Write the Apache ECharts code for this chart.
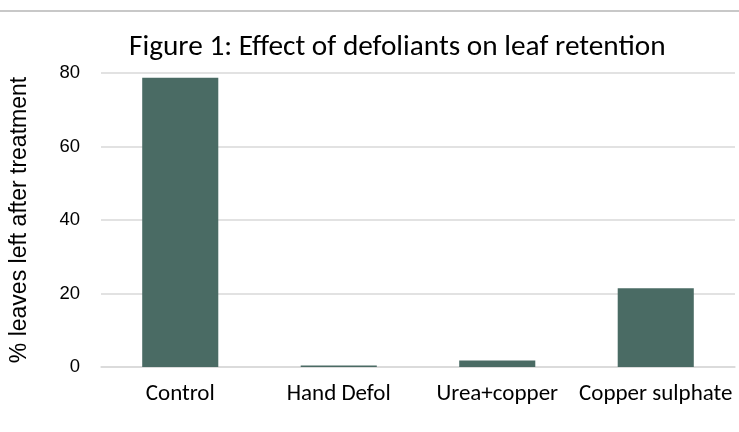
<!DOCTYPE html>
<html><head><meta charset="utf-8">
<script src="https://cdn.jsdelivr.net/npm/echarts@6/dist/echarts.min.js"></script>
<style>html,body{margin:0;padding:0;background:#fff}#c{width:739px;height:432px}</style>
</head><body><div id="c"></div>
<script>
const categories = ['Control', 'Hand Defol', 'Urea+copper', 'Copper sulphate'];
const values = [78.7, 0.4, 1.8, 21.4];
const yTicks = [0, 20, 40, 60, 80];

const chart = echarts.init(document.getElementById('c'));
chart.setOption({
  animation: false,
  graphic: [{type: 'line', shape: {x1: 0, y1: 11, x2: 739, y2: 11}, style: {stroke: '#c8c8c8', lineWidth: 2}}],
  title: {
    text: 'Figure 1: Effect of defoliants on leaf retention',
    left: 124, top: 28,
    textStyle: {fontFamily: 'Carlito, Lato, sans-serif', fontSize: 29.3, fontWeight: 'normal', color: '#000'}
  },
  grid: {left: 98, right: 4, top: 73, bottom: 65, containLabel: false},
  xAxis: {
    type: 'category', data: categories,
    axisLine: {lineStyle: {color: '#d9d9d9', width: 1.5}},
    axisTick: {show: false},
    axisLabel: {fontFamily: 'Carlito, Lato, sans-serif', fontSize: 23, color: '#000', margin: 16, interval: 0}
  },
  yAxis: {
    type: 'value', min: yTicks[0], max: yTicks[yTicks.length - 1], interval: 20,
    name: '% leaves left after treatment', nameLocation: 'middle', nameGap: 70,
    nameTextStyle: {fontFamily: 'Liberation Sans', fontSize: 23, color: '#000'},
    axisLine: {show: false}, axisTick: {show: false},
    axisLabel: {fontFamily: 'Liberation Sans', fontSize: 18.5, color: '#000', margin: 21},
    splitLine: {lineStyle: {color: '#d9d9d9', width: 1.5}}
  },
  series: [{
    type: 'bar', data: values, barWidth: '48%',
    itemStyle: {color: '#4a6b64'}
  }]
});
</script></body></html>
